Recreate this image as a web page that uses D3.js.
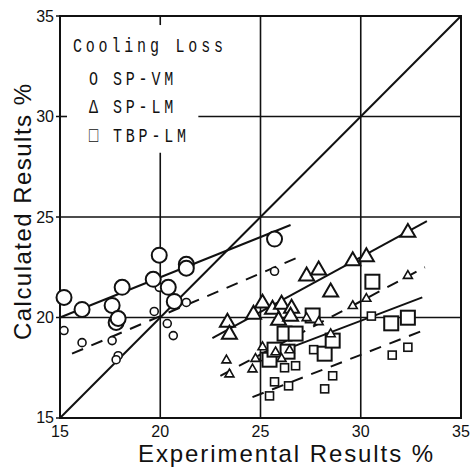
<!DOCTYPE html>
<html>
<head>
<meta charset="utf-8">
<script src="https://cdn.jsdelivr.net/npm/d3@7"></script>
<style>
  html, body { margin: 0; padding: 0; background: #fff; }
  svg { display: block; }
</style>
</head>
<body>
<svg id="chart" width="472" height="468"></svg>
<script>
// ---- data ----
const xTicks = [15, 20, 25, 30, 35];
const yTicks = [15, 20, 25, 30, 35];
const tickLabels = ["15", "20", "25", "30", "35"];

const legendTitle = "Cooling Loss";
const seriesNames = ["SP-VM", "SP-LM", "TBP-LM"];
const legendGlyphs = ["O", "Δ", "□"];

// SP-VM (circles)
const spvmLargeX = [15.2, 16.1, 17.6, 18.1, 17.8, 17.9, 19.65, 19.95, 20.4, 20.7, 21.3, 21.3, 25.7];
const spvmLargeY = [21.0, 20.4, 20.6, 21.5, 19.75, 19.95, 21.9, 23.1, 21.5, 20.8, 22.65, 22.45, 23.9];
const spvmSmallX = [15.2, 16.1, 17.6, 17.9, 17.8, 19.7, 19.95, 20.35, 20.65, 21.3, 25.7];
const spvmSmallY = [19.35, 18.75, 18.85, 18.1, 17.9, 20.3, 21.5, 19.7, 19.1, 20.75, 22.3];

// SP-LM (triangles)
const splmLargeX = [23.35, 23.45, 24.65, 25.1, 25.6, 26.05, 26.55, 25.9, 26.5, 27.3, 27.9, 28.5, 29.6, 30.28, 32.35];
const splmLargeY = [19.8, 19.2, 20.2, 20.75, 20.45, 20.7, 20.5, 19.9, 20.1, 22.1, 22.4, 21.3, 22.86, 23.06, 24.27];
const splmSmallX = [23.3, 23.45, 24.6, 24.75, 25.1, 25.75, 26.05, 26.45, 27.3, 27.9, 28.5, 29.6, 30.28, 32.35];
const splmSmallY = [17.9, 17.2, 17.45, 17.97, 18.55, 18.3, 17.97, 18.4, 20.0, 19.8, 19.2, 20.6, 20.96, 22.1];

// TBP-LM (squares)
const tbpLargeX = [25.45, 25.7, 26.2, 26.75, 26.35, 27.6, 28.2, 28.6, 30.58, 31.52, 32.35];
const tbpLargeY = [17.9, 18.4, 19.2, 19.2, 18.3, 20.1, 18.2, 18.85, 21.78, 19.71, 19.99];
const tbpSmallX = [25.2, 25.45, 25.7, 26.2, 26.75, 26.4, 27.65, 28.2, 28.6, 30.53, 31.57, 32.35];
const tbpSmallY = [18.05, 16.1, 16.8, 17.5, 17.6, 16.6, 18.4, 16.45, 17.1, 20.07, 18.13, 18.52];

// fitted lines: [x0, y0, x1, y1]
const fitSpvmSolid = [15.0, 20.0, 26.5, 24.6];
const fitSpvmDash  = [15.6, 18.2, 26.8, 22.96];
const fitSplmSolid = [22.6, 18.97, 33.3, 24.8];
const fitSplmDash  = [23.0, 17.1, 33.2, 22.5];
const fitTbpSolid  = [24.85, 17.88, 33.07, 21.0];
const fitTbpDash   = [24.6, 16.04, 33.18, 19.38];
const diagonal     = [15, 15, 35, 35];

// ---- drawing ----
const svg = d3.select("#chart");
const x = d3.scaleLinear().domain([15, 35]).range([60, 461]);
const y = d3.scaleLinear().domain([15, 35]).range([418, 16]);

const g = svg.append("g");

// grid lines (some interrupted by the legend)
const gridSegs = [
  [20, 15, 20, 28.2], [20, 34.55, 20, 35],
  [25, 15, 25, 35], [30, 15, 30, 35],
  [15, 20, 35, 20], [15, 25, 35, 25],
  [21.9, 30, 35, 30], [15, 30, 15.35, 30]
];
g.selectAll("line.grid").data(gridSegs).join("line")
  .attr("class", "grid")
  .attr("x1", d => x(d[0])).attr("y1", d => y(d[1]))
  .attr("x2", d => x(d[2])).attr("y2", d => y(d[3]))
  .attr("stroke", "#111").attr("stroke-width", 1.6);

// frame
g.append("rect")
  .attr("x", x(15)).attr("y", y(35))
  .attr("width", x(35) - x(15)).attr("height", y(15) - y(35))
  .attr("fill", "none").attr("stroke", "#111").attr("stroke-width", 2);

// left ticks
g.selectAll("line.ytick").data(yTicks).join("line")
  .attr("x1", x(15) - 4).attr("x2", x(15))
  .attr("y1", d => y(d)).attr("y2", d => y(d))
  .attr("stroke", "#111").attr("stroke-width", 1.5);

// tick labels
g.selectAll("text.xl").data(xTicks).join("text")
  .attr("x", d => x(d)).attr("y", 437)
  .attr("text-anchor", "middle")
  .attr("font-family", "Liberation Sans, Arial, sans-serif")
  .attr("font-size", 16)
  .attr("fill", "#111")
  .text((d, i) => tickLabels[i]);
g.selectAll("text.yl").data(yTicks).join("text")
  .attr("x", 54).attr("y", d => y(d) + (d === 15 ? -1 : 0))
  .attr("dy", "0.35em")
  .attr("text-anchor", "end")
  .attr("font-family", "Liberation Sans, Arial, sans-serif")
  .attr("font-size", 16)
  .attr("fill", "#111")
  .text((d, i) => tickLabels[i]);

// axis titles
svg.append("text")
  .attr("x", 138).attr("y", 462)
  .attr("textLength", 295).attr("lengthAdjust", "spacing")
  .attr("font-family", "Liberation Sans, Arial, sans-serif")
  .attr("font-size", 24).attr("fill", "#111")
  .text("Experimental Results %");
svg.append("text")
  .attr("transform", "translate(31,340) rotate(-90)")
  .attr("textLength", 256).attr("lengthAdjust", "spacing")
  .attr("font-family", "Liberation Sans, Arial, sans-serif")
  .attr("font-size", 24).attr("fill", "#111")
  .text("Calculated Results %");

// fitted lines
const fits = [
  [fitSpvmSolid, null], [fitSpvmDash, "12,9"],
  [fitSplmSolid, null], [fitSplmDash, "12,9"],
  [fitTbpSolid, null], [fitTbpDash, "12,9"],
  [diagonal, null]
];
g.selectAll("line.fit").data(fits).join("line")
  .attr("x1", d => x(d[0][0])).attr("y1", d => y(d[0][1]))
  .attr("x2", d => x(d[0][2])).attr("y2", d => y(d[0][3]))
  .attr("stroke", "#111").attr("stroke-width", 2)
  .attr("stroke-dasharray", d => d[1]);

// markers
function pts(xs, ys) { return xs.map((v, i) => [v, ys[i]]); }
const mk = g.append("g").attr("fill", "#fff").attr("stroke", "#111");

function circles(data, r, sw) {
  mk.append("g").selectAll("circle").data(data).join("circle")
    .attr("cx", d => x(d[0])).attr("cy", d => y(d[1])).attr("r", r)
    .attr("stroke-width", sw);
}
function squares(data, s, sw) {
  mk.append("g").selectAll("rect").data(data).join("rect")
    .attr("x", d => x(d[0]) - s / 2).attr("y", d => y(d[1]) - s / 2)
    .attr("width", s).attr("height", s)
    .attr("stroke-width", sw);
}
function triangles(data, s, sw) {
  const h = s * Math.sqrt(3) / 2;
  mk.append("g").selectAll("path").data(data).join("path")
    .attr("d", d => {
      const cx = x(d[0]), cy = y(d[1]);
      return `M${cx},${cy - h * 0.6}L${cx + s / 2},${cy + h * 0.4}L${cx - s / 2},${cy + h * 0.4}Z`;
    })
    .attr("stroke-width", sw).attr("stroke-linejoin", "miter");
}

squares(pts(tbpSmallX, tbpSmallY), 8, 1.6);
squares(pts(tbpLargeX, tbpLargeY), 14, 2);
triangles(pts(splmSmallX, splmSmallY), 9, 1.6);
triangles(pts(splmLargeX, splmLargeY), 15, 2);
circles(pts(spvmSmallX, spvmSmallY), 4, 1.6);
circles(pts(spvmLargeX, spvmLargeY), 7.5, 2);

// legend (tall, narrow, widely spaced typewriter lettering)
const lf = "Liberation Mono, DejaVu Sans Mono, monospace";
svg.append("text")
  .attr("transform", "translate(73,52) scale(1,1.4)")
  .attr("font-family", lf).attr("font-size", 15)
  .attr("textLength", 150).attr("lengthAdjust", "spacing")
  .attr("fill", "#111")
  .text(legendTitle);
const rowsY = [85, 113, 142];
svg.selectAll("text.lg").data(seriesNames).join("text")
  .attr("transform", (d, i) => `translate(89,${rowsY[i]}) scale(1,1.4)`)
  .attr("font-family", lf).attr("font-size", 15).attr("fill", "#111")
  .text((d, i) => legendGlyphs[i]);
svg.selectAll("text.ll").data(seriesNames).join("text")
  .attr("transform", (d, i) => `translate(113,${rowsY[i]}) scale(1,1.4)`)
  .attr("font-family", lf).attr("font-size", 15)
  .attr("letter-spacing", 3.8).attr("fill", "#111")
  .text(d => d);
</script>
</body>
</html>
